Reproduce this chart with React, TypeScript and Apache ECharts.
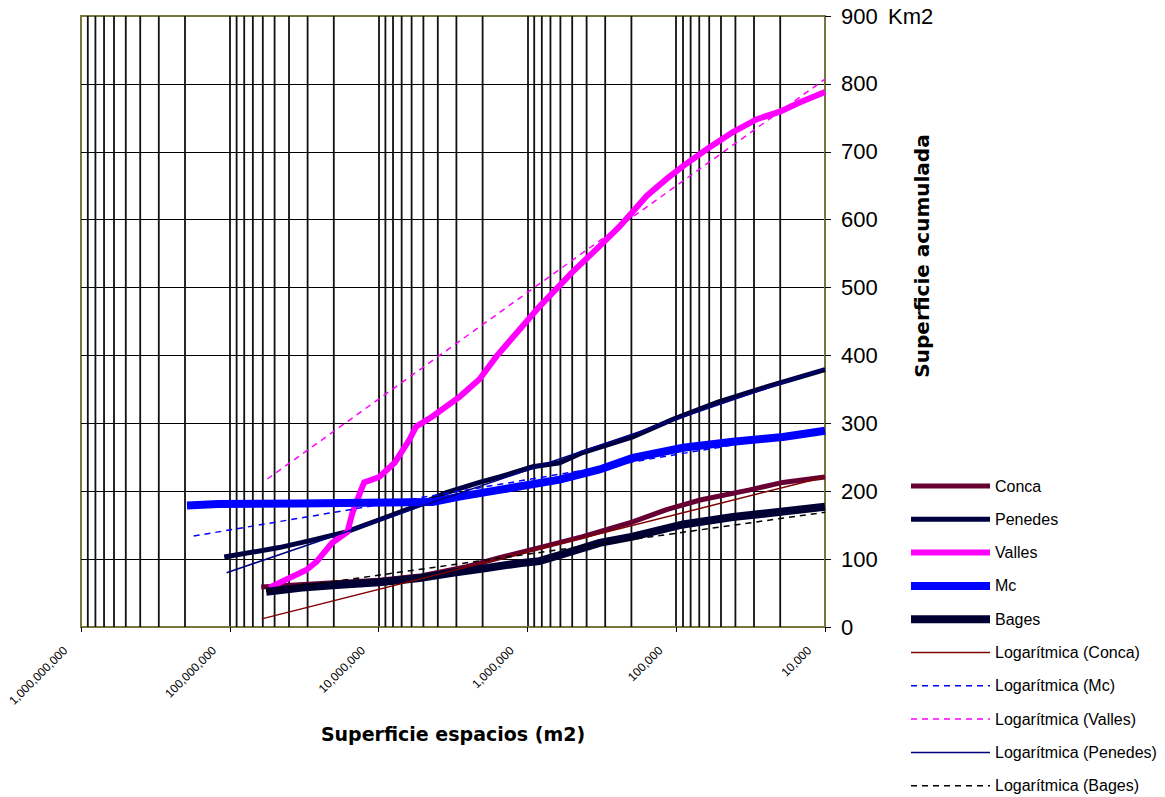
import React, { useEffect, useRef } from "react";
import * as echarts from "echarts";

// Cumulative surface (km2) against size of each open space (m2), per comarca.
// Areas are listed from the largest space down to the smallest.
const concaArea = [6.15e7, 2.14e7, 9.9e6, 5.31e6, 2.56e6, 1.54e6, 7.9e5, 4.25e5, 1.96e5, 1.16e5, 6.9e4, 3.2e4, 1.92e4, 1.0e4];
const concaKm2 = [59, 65, 69, 75, 89, 102, 118, 133, 155, 173, 187, 202, 213, 221];

const penedesArea = [1.09e8, 4.66e7, 2.79e7, 1.65e7, 9.9e6, 5.93e6, 3.5e6, 2.1e6, 1.54e6, 9.2e5, 6.07e5, 4.25e5, 1.96e5, 1.05e5, 5.3e4, 2.45e4, 1.0e4];
const penedesKm2 = [103, 117, 128, 140, 158, 176, 198, 213, 221, 236, 242, 257, 280, 306, 331, 354, 379];

const vallesArea = [5.43e7, 4.66e7, 3.06e7, 2.62e7, 2.05e7, 1.62e7, 1.5e7, 1.31e7, 1.25e7, 9.9e6, 7.8e6, 6.2e6, 5.6e6, 4.35e6, 2.86e6, 2.1e6, 1.61e6, 1.08e6, 8.3e5, 4.97e5, 3.27e5, 2.4e5, 1.58e5, 1.16e5, 9.0e4, 6.2e4, 4.16e4, 2.87e4, 2.01e4, 1.47e4, 1.0e4];
const vallesKm2 = [58, 65, 84, 96, 124, 140, 168, 202, 213, 221, 242, 276, 295, 310, 339, 365, 399, 443, 472, 523, 561, 590, 635, 660, 679, 704, 729, 748, 759, 773, 788];

const mcArea = [1.94e8, 1.2e8, 3.41e7, 4.35e6, 2.86e6, 1.54e6, 6.07e5, 3.27e5, 1.96e5, 9.0e4, 4.16e4, 1.92e4, 1.0e4];
const mcKm2 = [179, 181, 182, 184, 192, 202, 217, 232, 249, 264, 273, 280, 289];

const bagesArea = [5.69e7, 3.26e7, 1.92e7, 9.9e6, 5.31e6, 3.18e6, 1.88e6, 1.13e6, 8.3e5, 5.45e5, 3.27e5, 1.96e5, 9.0e4, 4.16e4, 1.92e4, 1.0e4];
const bagesKm2 = [52, 58, 62, 66, 72, 80, 87, 94, 97, 109, 124, 133, 151, 162, 170, 177];

// Logarithmic trend lines: straight on a log axis, so two ends each
const trendConcaArea = [6.1e7, 1.0e4];
const trendConcaKm2 = [12, 221];
const trendMcArea = [1.75e8, 1.0e4];
const trendMcKm2 = [134, 291];
const trendVallesArea = [5.6e7, 1.0e4];
const trendVallesKm2 = [218, 807];
const trendPenedesArea = [1.05e8, 1.0e4];
const trendPenedesKm2 = [80, 381];
const trendBagesArea = [5.7e7, 1.0e4];
const trendBagesKm2 = [53, 169];

const legendNames = [
  "Conca",
  "Penedes",
  "Valles",
  "Mc",
  "Bages",
  "Logarítmica (Conca)",
  "Logarítmica (Mc)",
  "Logarítmica (Valles)",
  "Logarítmica (Penedes)",
  "Logarítmica (Bages)",
];

// Decades of the size axis, and the 2..9 sub-divisions drawn as grid lines
const decades = [1e4, 1e5, 1e6, 1e7, 1e8];
const subSteps = [2, 3, 4, 5, 6, 7, 8, 9];

const FONT = "'Liberation Sans', Arial, Helvetica, sans-serif";
const TITLE_FONT = "'DejaVu Sans', 'Liberation Sans', Arial, sans-serif";
const FRAME = "#77773c";
const GRID_INK = "#111111";

const zip = (xs: number[], ys: number[]) => xs.map((x, i) => [x, ys[i]]);

export default function App() {
  const ref = useRef<HTMLDivElement>(null);

  useEffect(() => {
    if (!ref.current) return;
    const chart = echarts.init(ref.current, null, { renderer: "svg" });

    const curve = (name: string, xs: number[], ys: number[], color: string, width: number, type: any = "solid") => ({
      name,
      type: "line",
      data: zip(xs, ys),
      symbol: "none",
      showSymbol: false,
      silent: true,
      lineStyle: { color, width, type, cap: "butt", join: "miter" },
      itemStyle: { color },
      z: 3,
    });

    // vertical grid lines at every sub-division of each decade
    const gridData: any[] = [];
    decades.forEach((d) => {
      subSteps.forEach((s) => {
        gridData.push([d * s, 0], [d * s, 900], [d * s, "-"]);
      });
    });

    const option: any = {
      animation: false,
      backgroundColor: "#ffffff",
      textStyle: { fontFamily: FONT, color: "#000" },
      grid: {
        left: 81,
        right: 340,
        top: 16,
        bottom: 170,
        show: true,
        borderColor: FRAME,
        borderWidth: 2,
        backgroundColor: "#ffffff",
      },
      xAxis: {
        type: "log",
        logBase: 10,
        min: 1e4,
        max: 1e9,
        splitNumber: 5,
        inverse: true,
        name: "Superficie espacios (m2)",
        nameLocation: "middle",
        nameGap: 97,
        nameTextStyle: { fontFamily: TITLE_FONT, fontSize: 19, fontWeight: "bold", color: "#000" },
        axisLine: { show: true, lineStyle: { color: FRAME, width: 2 } },
        axisTick: { show: true, length: 5, lineStyle: { color: "#000", width: 1 } },
        axisLabel: {
          rotate: 45,
          margin: 6,
          padding: [0, 22, 0, 0],
          fontSize: 12,
          fontFamily: FONT,
          color: "#000",
          showMinLabel: true,
          showMaxLabel: true,
          hideOverlap: false,
          formatter: (v: number) => Math.round(v).toLocaleString("en-US"),
        },
        splitLine: {
          show: true,
          showMinLine: false,
          showMaxLine: false,
          lineStyle: { color: GRID_INK, width: 1.8 },
        },
        minorTick: { show: false },
      },
      yAxis: {
        type: "value",
        position: "right",
        min: 0,
        max: 900,
        interval: 100,
        axisLine: { show: true, lineStyle: { color: FRAME, width: 2 } },
        axisTick: { show: true, inside: false, length: 6, lineStyle: { color: "#000", width: 1 } },
        axisLabel: { margin: 16, fontSize: 22, fontFamily: FONT, color: "#000", align: "left" },
        splitLine: {
          show: true,
          showMinLine: false,
          showMaxLine: false,
          lineStyle: { color: "#000", width: 1.2 },
        },
      },
      legend: {
        orient: "vertical",
        left: 907,
        top: 478,
        padding: 0,
        height: 318,
        itemWidth: 79,
        itemHeight: 16,
        itemGap: 17.3,
        data: legendNames,
        selectedMode: false,
        textStyle: { fontFamily: FONT, fontSize: 16, color: "#000" },
        itemStyle: { opacity: 0 },
        lineStyle: { width: "inherit", type: "inherit", opacity: 1 },
      },
      graphic: [
        {
          type: "text",
          left: 888,
          top: 5,
          silent: true,
          style: { text: "Km2", font: `22px ${FONT}`, fill: "#000" },
        },
        {
          type: "text",
          x: 922,
          y: 256,
          rotation: Math.PI / 2,
          silent: true,
          style: {
            text: "Superficie acumulada",
            font: `bold 20px ${TITLE_FONT}`,
            fill: "#000",
            align: "center",
            verticalAlign: "middle",
          },
        },
      ],
      series: [
        {
          name: "grid-lines",
          type: "line",
          data: gridData,
          symbol: "none",
          showSymbol: false,
          connectNulls: false,
          silent: true,
          z: 1,
          lineStyle: { color: GRID_INK, width: 1.8 },
          itemStyle: { color: GRID_INK },
        },
        curve("Conca", concaArea, concaKm2, "#660033", 5),
        curve("Penedes", penedesArea, penedesKm2, "#000040", 5),
        curve("Valles", vallesArea, vallesKm2, "#ff00ff", 6),
        curve("Mc", mcArea, mcKm2, "#0000ff", 8),
        curve("Bages", bagesArea, bagesKm2, "#000033", 8),
        curve("Logarítmica (Conca)", trendConcaArea, trendConcaKm2, "#800000", 1.5),
        curve("Logarítmica (Mc)", trendMcArea, trendMcKm2, "#0000ff", 1.5, [6, 5]),
        curve("Logarítmica (Valles)", trendVallesArea, trendVallesKm2, "#ff00ff", 1.5, [6, 5]),
        curve("Logarítmica (Penedes)", trendPenedesArea, trendPenedesKm2, "#000080", 1.5),
        curve("Logarítmica (Bages)", trendBagesArea, trendBagesKm2, "#000000", 1.5, [6, 5]),
      ],
    };

    chart.setOption(option);
    return () => chart.dispose();
  }, []);

  return (
    <div
      ref={ref}
      style={{ position: "fixed", left: 0, top: 0, width: 1165, height: 797, background: "#fff" }}
    />
  );
}
